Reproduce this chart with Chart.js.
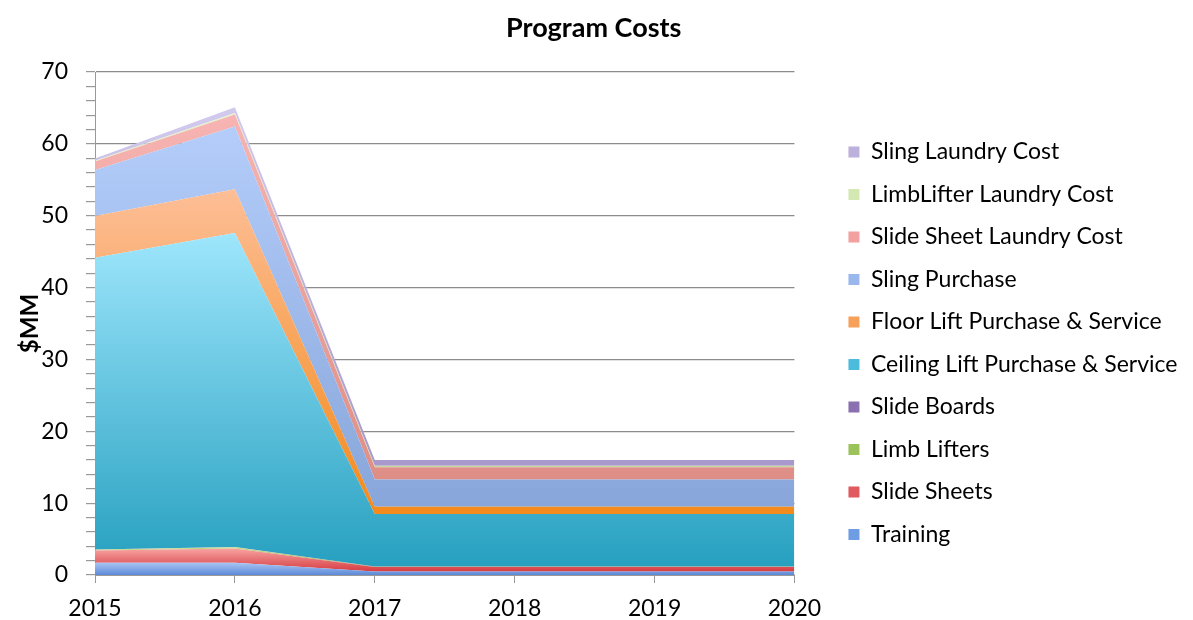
<!DOCTYPE html>
<html lang="en">
<head>
  <meta charset="UTF-8">
  <title>Program Costs</title>
  <script src="https://cdn.jsdelivr.net/npm/chart.js"></script>
  <style>
    body { margin: 0; background: white; }
    canvas { display: block; }
  </style>
</head>
<body>
  <canvas id="costChart" width="1193" height="620"></canvas>

  <script>
    const years = ['2015', '2016', '2017', '2018', '2019', '2020'];

    // $MM per category, stacked bottom to top
    const training = [1.7, 1.7, 0.5, 0.5, 0.5, 0.5];
    const slideSheets = [1.7, 2.0, 0.6, 0.6, 0.6, 0.6];
    const limbLifters = [0.1, 0.15, 0.05, 0.05, 0.05, 0.05];
    const slideBoards = [0.05, 0.05, 0.05, 0.05, 0.05, 0.05];
    const ceilingLift = [40.6, 43.7, 7.3, 7.3, 7.3, 7.3];
    const floorLift = [5.8, 6.1, 1.0, 1.0, 1.0, 1.0];
    const slingPurchase = [6.4, 8.7, 3.8, 3.8, 3.8, 3.8];
    const slideSheetLaundry = [1.2, 1.7, 1.7, 1.7, 1.7, 1.7];
    const limbLifterLaundry = [0.1, 0.2, 0.2, 0.2, 0.2, 0.2];
    const slingLaundry = [0.3, 0.8, 0.8, 0.8, 0.8, 0.8];

    const font = "Lato, 'Open Sans', sans-serif";

    // [label, data, gradient top, gradient bottom, legend swatch]
    const series = [
      ['Training', training, '#a8c4f4', '#5c8ad6', '#6e9de4'],
      ['Slide Sheets', slideSheets, '#f7a4a2', '#d63c42', '#e05a60'],
      ['Limb Lifters', limbLifters, '#c0dc84', '#8cb048', '#9cc25c'],
      ['Slide Boards', slideBoards, '#b0a0d4', '#7c62a8', '#8a70b0'],
      ['Ceiling Lift Purchase & Service', ceilingLift, '#9ee6fc', '#27a0c0', '#4cbcdc'],
      ['Floor Lift Purchase & Service', floorLift, '#fdbe96', '#f38a1c', '#f7a05a'],
      ['Sling Purchase', slingPurchase, '#b4cdfa', '#88a6da', '#9ab8ee'],
      ['Slide Sheet Laundry Cost', slideSheetLaundry, '#f7b4b2', '#de8e86', '#f2a0a0'],
      ['LimbLifter Laundry Cost', limbLifterLaundry, '#e2f0cc', '#c6d8a0', '#d4e8b4'],
      ['Sling Laundry Cost', slingLaundry, '#d2caee', '#a898cc', '#bcb0dc']
    ];

    // each band's gradient runs over its own vertical extent, like the Excel fill
    const gradCache = {};
    function areaFill(i) {
      return (ctx) => {
        const chart = ctx.chart;
        const area = chart.chartArea;
        const y = chart.scales.y;
        if (!area || !y) return series[i][4];
        let lo = Infinity, hi = -Infinity;
        years.forEach((_, k) => {
          let base = 0;
          for (let j = 0; j < i; j++) base += series[j][1][k];
          lo = Math.min(lo, base);
          hi = Math.max(hi, base + series[i][1][k]);
        });
        const top = y.getPixelForValue(hi), bottom = y.getPixelForValue(lo);
        const key = i + ':' + top + ':' + bottom;
        if (!gradCache[key]) {
          const g = chart.ctx.createLinearGradient(0, top, 0, bottom);
          g.addColorStop(0, series[i][2]);
          g.addColorStop(1, series[i][3]);
          gradCache[key] = g;
        }
        return gradCache[key];
      };
    }

    const datasets = series.map((s, i) => ({
      label: s[0],
      data: s[1],
      backgroundColor: areaFill(i),
      borderWidth: 0,
      pointRadius: 0,
      tension: 0,
      fill: i === 0 ? 'origin' : '-1'
    }));

    // let the legend be wider than the default half-width share
    const wideLegend = {
      id: 'wideLegend',
      beforeLayout(chart) {
        const lg = chart.legend;
        if (lg && !lg._wide) {
          const orig = lg.update;
          lg.update = function (maxWidth, maxHeight, margins) {
            return orig.call(this, 420, maxHeight, margins);
          };
          lg._wide = true;
        }
      }
    };

    new Chart(document.getElementById('costChart'), {
      type: 'line',
      data: { labels: years, datasets },
      plugins: [wideLegend],
      options: {
        responsive: false,
        animation: false,
        layout: { padding: { left: 0, right: 5.5, top: 0, bottom: 0 } },
        plugins: {
          title: {
            display: true,
            text: 'Program Costs',
            color: '#000',
            font: { family: font, size: 27, weight: 'bold' },
            padding: { top: 12, bottom: 27.6 }
          },
          legend: {
            position: 'right',
            align: 'start',
            reverse: true,
            title: { display: true, text: '', font: { size: 10, lineHeight: 1 }, padding: { top: 0, bottom: 111 } },
            labels: {
              color: '#000',
              font: { family: font, size: 23 },
              boxWidth: 11,
              boxHeight: 11,
              padding: 19.5,
              generateLabels: (chart) => chart.data.datasets.map((d, i) => ({
                text: d.label,
                fillStyle: series[i][4],
                strokeStyle: series[i][4],
                fontColor: '#000',
                lineWidth: 0,
                datasetIndex: i,
                hidden: false
              }))
            }
          },
          tooltip: { enabled: false }
        },
        scales: {
          x: {
            offset: false,
            grid: { display: true, drawOnChartArea: false, color: '#999', tickLength: 8 },
            border: { color: '#999' },
            ticks: { color: '#000', font: { family: font, size: 23 }, padding: 12, maxRotation: 0 },
            afterFit: (s) => { s.height = 45; }
          },
          y: {
            stacked: true,
            min: 0,
            max: 70,
            title: {
              display: true,
              text: '$MM',
              color: '#000',
              font: { family: font, size: 24, weight: 'bold' },
              padding: { top: 16, bottom: 0 }
            },
            grid: {
              color: (c) => (c.tick && c.tick.value % 10 === 0 ? '#8c8c8c' : 'rgba(0,0,0,0)'),
              tickColor: '#999',
              tickLength: 9,
              lineWidth: 1.2
            },
            border: { color: '#999' },
            ticks: {
              stepSize: 2,
              autoSkip: false,
              color: '#000',
              font: { family: font, size: 23 },
              padding: 18,
              callback: (v) => (v % 10 === 0 ? v : '')
            },
            afterFit: (s) => { s.width = 95; }
          },
          gap: {
            position: 'right',
            display: true,
            min: 0,
            max: 1,
            grid: { display: false },
            border: { display: false },
            ticks: { display: false },
            afterFit: (s) => { s.width = 34.5; }
          }
        }
      }
    });
  </script>
</body>
</html>
